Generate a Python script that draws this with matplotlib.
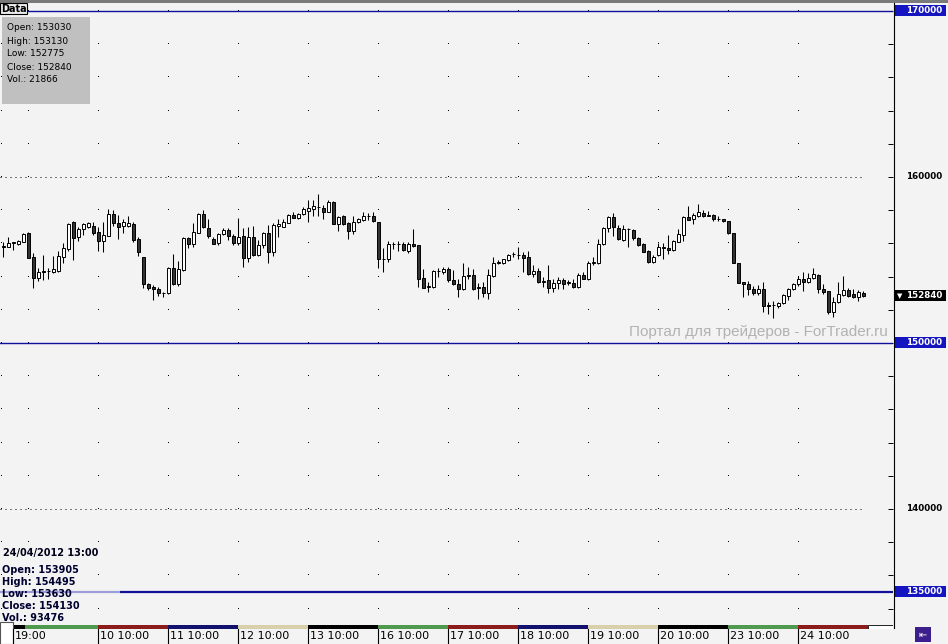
import matplotlib
matplotlib.use("Agg")
import numpy as np
import matplotlib.pyplot as plt
from matplotlib.patches import Rectangle
from matplotlib.lines import Line2D
from matplotlib.transforms import blended_transform_factory

# hourly candles
opens = [155845, 155805, 156045, 155945, 156105, 156605, 155160, 153935, 154340, 154340,
         154275, 154360, 155200, 155645, 157270, 156365, 156850, 157010, 157050, 156685,
         156165, 156465, 157770, 157250, 157050, 157070, 157170, 156245, 155160, 153535,
         153395, 153255, 152990, 152990, 154500, 153535, 154400, 156305, 155945, 156645,
         157770, 156950, 156265, 156005, 156565, 156805, 156445, 156005, 156465, 155100,
         156365, 155300, 155905, 156605, 155500, 157070, 157010, 157250, 157710, 157510,
         157770, 157970, 158070, 158175, 158155, 157910, 158515, 157150, 157650, 157210,
         156765, 157270, 157410, 157650, 157650, 157270, 155040, 155060, 155945, 155945,
         155945, 155560, 155965, 155905, 153895, 153395, 153395, 154335, 154255, 154440,
         153795, 153555, 153240, 154040, 154095, 153335, 153355, 153030, 154035, 154840,
         154800, 154980, 155360, 155300, 155300, 155160, 154135, 154335, 153695, 153775,
         153295, 153595, 153795, 153635, 153595, 153355, 154095, 153855, 154840, 154840,
         155945, 156945, 157610, 156905, 156205, 156845, 156805, 156305, 155945, 155540,
         154860, 155300, 155745, 155745, 155600, 156105, 156505, 157570, 157450, 157670,
         157810, 157670, 157710, 157470, 157450, 157350, 156605, 154840, 153655, 153555,
         153255, 153035, 153255, 152290, 152290, 152230, 152390, 152830, 153235, 153535,
         153855, 153655, 153895, 154095, 153255, 153135, 151890, 152450, 152890, 153195,
         152930, 152790, 153030]
highs = [156105, 156405, 156105, 156205, 156645, 156665, 155400, 154500, 155300, 154500,
         155240, 155560, 156005, 157250, 157350, 157010, 157210, 157270, 157270, 157010,
         157310, 158070, 158010, 157710, 157450, 157650, 157270, 156405, 155200, 153595,
         153495, 153395, 153075, 154600, 155360, 154960, 156365, 156405, 157210, 157810,
         158010, 157470, 156405, 156605, 156910, 156910, 156565, 157510, 156950, 156970,
         157050, 156205, 156705, 157110, 157210, 157450, 157450, 157770, 157910, 157810,
         158175, 158615, 158615, 158955, 158315, 158615, 158575, 157650, 157710, 157310,
         157670, 157550, 157910, 157810, 157910, 157310, 155705, 156145, 156105, 156145,
         156105, 156105, 156865, 155905, 154440, 153695, 154400, 154500, 154600, 154600,
         154400, 153835, 154800, 154600, 154455, 153595, 153655, 154455, 155200, 155000,
         155080, 155360, 155500, 155805, 155500, 155560, 154700, 154500, 153995, 154700,
         153835, 153995, 153895, 153795, 153835, 154195, 154295, 154960, 155200, 156245,
         157010, 157670, 157810, 157110, 157110, 156905, 156845, 156365, 156045, 155600,
         155300, 156045, 156005, 156505, 156205, 156845, 157670, 158255, 157810, 158355,
         158010, 157970, 157750, 157670, 157470, 157350, 156605, 154840, 153655, 153755,
         153455, 153495, 153655, 152490, 152530, 152450, 152950, 153295, 153595, 154055,
         154255, 154195, 154540, 154135, 153555, 153135, 152790, 153655, 154035, 153335,
         153235, 153195, 153130]
lows = [155200, 155765, 155605, 155905, 156065, 155140, 153295, 153755, 153795, 153835,
        154235, 154295, 154840, 155560, 155000, 156165, 156505, 156910, 156505, 155540,
        155500, 156465, 157050, 156245, 156645, 157010, 156105, 155240, 153295, 153195,
        152590, 152830, 152750, 152950, 153495, 153435, 154360, 155705, 155805, 156605,
        156910, 156305, 155965, 155905, 156505, 156205, 155905, 155905, 154600, 154900,
        155260, 155240, 155745, 154800, 155240, 156405, 156970, 157210, 157510, 157470,
        157710, 157310, 157670, 157670, 157450, 157870, 157150, 156765, 157110, 156245,
        156545, 157210, 157370, 157410, 157310, 154540, 154255, 154860, 155665, 155540,
        155540, 155400, 155805, 153395, 153335, 153090, 153295, 153995, 154135, 153695,
        153495, 152790, 153190, 153850, 153190, 152630, 152790, 152630, 153995, 154740,
        154760, 154940, 155200, 155040, 154295, 154095, 153995, 153595, 153355, 153030,
        153090, 153235, 153235, 153495, 153335, 153335, 153835, 153795, 154700, 154760,
        155905, 156665, 156465, 156205, 156165, 155805, 156205, 155865, 155460, 154800,
        154800, 155260, 155060, 155360, 155540, 156065, 156165, 157400, 157150, 157570,
        157610, 157650, 157350, 157350, 157270, 156545, 154800, 153635, 152790, 152890,
        152890, 152890, 151850, 151725, 151525, 152130, 152350, 152590, 153195, 153455,
        153135, 153595, 153855, 152990, 152930, 151745, 151585, 152390, 152850, 152790,
        152730, 152550, 152775]
closes = [155765, 156005, 156045, 156165, 156565, 155140, 153935, 154275, 154255, 154340,
          154460, 155240, 155705, 157170, 156345, 156850, 157150, 157210, 156605, 156165,
          156505, 157770, 157250, 157010, 157270, 157250, 156205, 155460, 153535, 153335,
          153235, 152990, 152990, 154500, 153535, 154440, 156305, 155945, 156665, 157770,
          156970, 156465, 155965, 156545, 156805, 156445, 156005, 156405, 155100, 156365,
          155300, 155905, 156645, 155500, 157110, 157150, 157310, 157710, 157510, 157770,
          158050, 158155, 158255, 158175, 157910, 158515, 157150, 157610, 157170, 156765,
          157270, 157450, 157650, 157650, 157350, 155040, 155040, 155945, 155945, 155945,
          155580, 155945, 155865, 153835, 153335, 153395, 154335, 154335, 154460, 153795,
          153535, 153235, 154045, 154080, 153235, 153335, 153030, 154095, 154840, 154840,
          155040, 155300, 155360, 155300, 155140, 154135, 154335, 153655, 153695, 153295,
          153595, 153795, 153555, 153635, 153355, 154075, 153855, 154800, 154840, 155945,
          156945, 157570, 156965, 156245, 156845, 156845, 156305, 155905, 155500, 154860,
          155200, 155765, 155745, 155600, 156165, 156545, 157570, 157430, 157710, 157870,
          157670, 157670, 157470, 157470, 157350, 156605, 154800, 153635, 153535, 153235,
          153035, 153255, 152250, 152230, 152290, 152390, 152890, 153235, 153535, 153855,
          153655, 153935, 154155, 153235, 153095, 151890, 152490, 152950, 153195, 152850,
          152790, 153095, 152840]

tick_index = [2, 19, 33, 47, 61, 75, 89, 103, 117, 131, 145, 159]
tick_labels = ["19:00", "10 10:00", "11 10:00", "12 10:00", "13 10:00", "16 10:00",
               "17 10:00", "18 10:00", "19 10:00", "20 10:00", "23 10:00", "24 10:00"]
day_colors = ["#000000", "#4f9a4f", "#8c1c1c", "#12126e", "#d8d0aa", "#000000", "#4f9a4f",
              "#8c1c1c", "#12126e", "#d8d0aa", "#000000", "#4f9a4f", "#8c1c1c"]
blue_levels = [170000, 150000, 135000]
dotted_levels = [160000, 140000]
plain_labels = [160000, 140000]
last_price = 152840
last_bar = ["Open: 153030", "High: 153130", "Low: 152775", "Close: 152840", "Vol.: 21866"]
cursor_time = "24/04/2012 13:00"
cursor_bar = ["Open: 153905", "High: 154495", "Low: 153630", "Close: 154130", "Vol.: 93476"]

BG = "#f3f3f3"
NAVY = "#10109a"
W, H = 948, 644


def fx(px):
    return px / W


def fy(py):
    return 1 - py / H


fig = plt.figure(figsize=(W / 100, H / 100), dpi=100)
fig.patch.set_facecolor(BG)

ax = fig.add_axes([0, fy(625), fx(893), fy(4) - fy(625)])
ax.set_facecolor(BG)
ax.set_xlim(-0.66, 177.94)
ax.set_ylim(133010, 170420)

o = np.array(opens)
h = np.array(highs)
l = np.array(lows)
c = np.array(closes)
x = np.arange(len(o))

# grid: dotted full lines at round levels, single dots elsewhere
ax.hlines(dotted_levels, -0.66, 172.4, colors="black", lw=0.72,
          linestyles=(0, (1, 4)), zorder=1)
grid_x = [-0.5, 5] + tick_index[1:]
gx, gy = np.meshgrid(grid_x, np.arange(134000, 170001, 2000))
ax.plot(gx.ravel(), gy.ravel(), ",", color="black", zorder=1)

# horizontal level lines
ax.axhline(170000, color=NAVY, lw=1.0, zorder=2)
ax.axhline(150000, color=NAVY, lw=1.0, zorder=2)
ax.hlines(135000, -0.66, 23.3, color="#9c9cd8", lw=1.6, zorder=2)
ax.hlines(135000, 23.3, 177.94, color=NAVY, lw=1.6, zorder=2)

# candles
up = c >= o
ax.vlines(x, l, h, color="black", lw=0.75, zorder=3)
ax.bar(x, np.maximum(np.abs(c - o), 25), bottom=np.minimum(o, c), width=0.62,
       color=np.where(up, "white", "#333333"), edgecolor="black", lw=0.7, zorder=4)

# watermark
ax.text(fx(888), 150000 + (343 - 332) * 60.24, u"Портал для трейдеров - ForTrader.ru",
        transform=blended_transform_factory(fig.transFigure, ax.transData),
        ha="right", va="center", fontsize=11, color="#b2b2b2",
        family="Liberation Sans", zorder=5)

# right axis
for s in ["top", "left", "bottom", "right"]:
    ax.spines[s].set_visible(False)
ax.set_xticks([])
ax.yaxis.tick_right()
ax.set_yticks(np.arange(134000, 170001, 2000))
ax.tick_params(axis="y", direction="in", length=3.5, width=0.7, labelright=False)

tr = blended_transform_factory(fig.transFigure, ax.transData)
box_h = 11 * 60.24
for lev in blue_levels:
    ax.add_patch(Rectangle((fx(894), lev - box_h / 2), fx(946) - fx(894), box_h,
                           transform=tr, facecolor="#1414c0", edgecolor="none",
                           clip_on=False, zorder=6))
    ax.text(fx(942), lev, "%d" % lev, transform=tr, ha="right", va="center",
            fontsize=6.3, fontweight="bold", color="white", clip_on=False, zorder=7)
for lev in plain_labels:
    ax.text(fx(942), lev, "%d" % lev, transform=tr, ha="right", va="center",
            fontsize=6.3, fontweight="bold", color="black", clip_on=False, zorder=7)
ax.add_patch(Rectangle((fx(894), last_price - box_h / 2), fx(946) - fx(894), box_h,
                       transform=tr, facecolor="black", edgecolor="none",
                       clip_on=False, zorder=6))
ax.text(fx(942), last_price, "%d" % last_price, transform=tr, ha="right", va="center",
        fontsize=6.3, fontweight="bold", color="white", clip_on=False, zorder=7)
ax.text(fx(897), last_price, u"▼", transform=tr, ha="left", va="center",
        fontsize=5, color="white", clip_on=False, zorder=7)

# day colour strip under the plot
strip = fig.add_axes([0, fy(629), fx(893), fy(624.5) - fy(629)])
strip.set_xlim(ax.get_xlim())
strip.set_ylim(0, 1)
strip.axis("off")
edges = [tick_index[0], 4.4] + tick_index[1:] + [173]
for i, col in enumerate(day_colors):
    strip.add_patch(Rectangle((edges[i] - 0.06, 0), edges[i + 1] - edges[i], 1,
                              facecolor=col, edgecolor="none"))
strip.add_patch(Rectangle((172.94, 0), 5.0, 1, facecolor="white",
                          edgecolor="black", lw=0.6))

# time labels
bt = blended_transform_factory(ax.transData, fig.transFigure)
for t, lab in zip(tick_index, tick_labels):
    fig.add_artist(Line2D([t - 0.06, t - 0.06], [fy(629), fy(644)], transform=bt,
                          color="black", lw=0.8))
    fig.text(t + 0.25, fy(636), lab, transform=bt, fontsize=8, color="black",
             va="center")

fig.add_artist(Line2D([fx(893.5), fx(893.5)], [fy(3), fy(628)], color="black", lw=0.8))

# top frame, Data tab, last-bar box
fig.add_artist(Rectangle((0, fy(3)), 1, fy(0) - fy(3), transform=fig.transFigure,
                         facecolor="#7a7a7a", edgecolor="none"))
fig.add_artist(Rectangle((0, fy(14)), fx(27), fy(3) - fy(14), transform=fig.transFigure,
                         facecolor="#ececec", edgecolor="black", lw=0.8))
fig.text(fx(1), fy(8.5), "Data", fontsize=7, fontweight="bold", va="center")
fig.add_artist(Rectangle((fx(2), fy(104)), fx(90) - fx(2), fy(17) - fy(104),
                         transform=fig.transFigure, facecolor="#c0c0c0", edgecolor="none"))
for i, s in enumerate(last_bar):
    fig.text(fx(7), fy(28 + 13 * i), s, fontsize=6.5, va="center", color="black")

# cursor info bottom-left
fig.text(fx(3), fy(553), cursor_time, fontsize=7, fontweight="bold", va="center",
         color="#000018")
for i, s in enumerate(cursor_bar):
    fig.text(fx(2), fy(570 + 12 * i), s, fontsize=7, fontweight="bold", va="center",
             color="#000030")

# bottom corner boxes
fig.add_artist(Rectangle((0, fy(644)), fx(13), fy(622) - fy(644), transform=fig.transFigure,
                         facecolor="white", edgecolor="#555555", lw=0.8))
fig.add_artist(Rectangle((fx(915), fy(642)), fx(16), fy(627) - fy(642),
                         transform=fig.transFigure, facecolor="#3c1e8c", edgecolor="none"))
fig.text(fx(923), fy(634.5), u"⇤", fontsize=7, color="white", ha="center", va="center")

fig.savefig("out.png", dpi=100, facecolor=BG)
